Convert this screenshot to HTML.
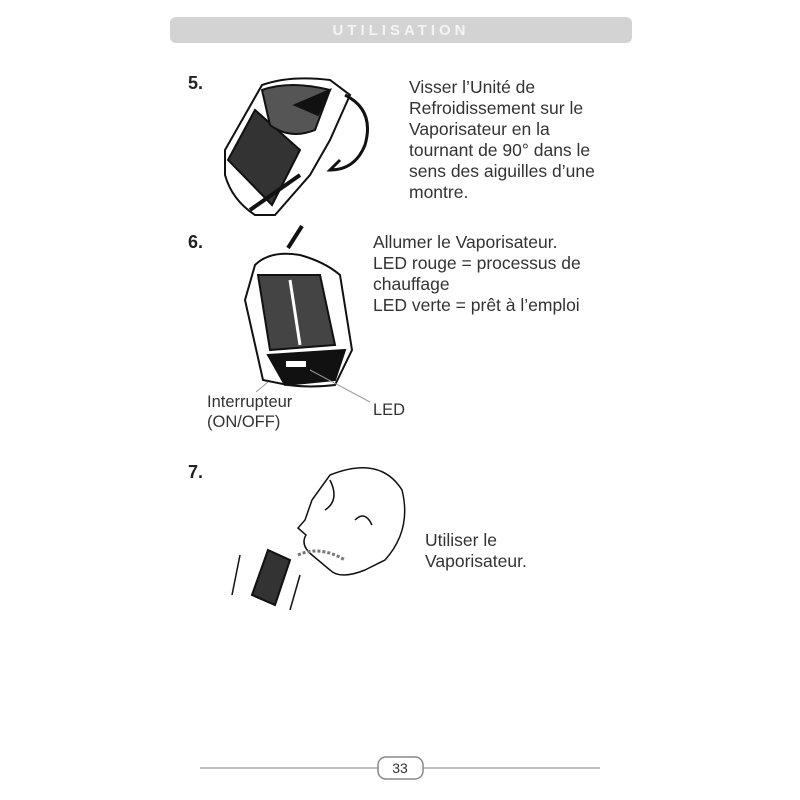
<!DOCTYPE html>
<html><head><meta charset="utf-8"><style>
body{margin:0;width:800px;height:800px;background:#fff;position:relative;font-family:"Liberation Sans",sans-serif;color:#333;overflow:hidden}
.t{position:absolute;font-size:17.5px;line-height:21px;white-space:nowrap}
.n{position:absolute;font-size:18px;font-weight:bold;color:#222}
</style></head><body>
<div style="position:absolute;left:170px;top:17px;width:462px;height:26px;background:#d3d3d3;border-radius:6px"></div>
<div class="t" style="left:170px;top:20px;width:462px;text-align:center;color:#f4f4f4;font-weight:bold;font-size:15px;letter-spacing:4px">UTILISATION</div>
<div class="n" style="left:188px;top:73px">5.</div>
<div class="t" style="left:409px;top:77px">Visser l’Unité de<br>Refroidissement sur le<br>Vaporisateur en la<br>tournant de 90° dans le<br>sens des aiguilles d’une<br>montre.</div>
<div class="n" style="left:188px;top:232px">6.</div>
<div class="t" style="left:373px;top:232px">Allumer le Vaporisateur.<br>LED rouge = processus de<br>chauffage<br>LED verte = prêt à l’emploi</div>
<div class="t" style="left:207px;top:392px;font-size:16.5px;line-height:20px">Interrupteur<br>(ON/OFF)</div>
<div class="t" style="left:373px;top:400px;font-size:16.5px">LED</div>
<div class="n" style="left:188px;top:462px">7.</div>
<div class="t" style="left:425px;top:530px">Utiliser le<br>Vaporisateur.</div>
<svg width="800" height="800" style="position:absolute;left:0;top:0">
<g stroke="#111" fill="none" stroke-width="2">
<!-- device 5 -->
<path d="M225 150 L262 85 Q290 75 330 80 L350 95 L330 140 L310 175 L275 215 L255 215 Q232 200 225 175 Z" fill="#fff"/>
<path d="M228 160 L255 110 L300 150 L272 205 Z" fill="#333"/>
<path d="M262 90 Q290 80 330 90 L315 130 Q290 140 270 125 Z" fill="#555"/>
<path d="M295 105 L330 90 L318 115 Z" fill="#111"/>
<path d="M345 95 Q375 110 365 145 Q355 170 330 170 L340 160" stroke-width="3"/>
<path d="M250 210 L300 175" stroke-width="4"/>
<!-- device 6 -->
<path d="M288 248 L302 226" stroke-width="4"/>
<path d="M255 265 Q270 250 300 255 Q325 262 340 275 L352 350 L335 385 Q310 388 288 385 L263 380 L245 300 Z" fill="#fff"/>
<path d="M258 275 L320 275 L335 345 L270 350 Z" fill="#444"/>
<path d="M290 280 L300 345" stroke="#fff" stroke-width="3"/>
<path d="M268 355 L345 350 L335 380 L285 385 Z" fill="#111"/>
<rect x="285" y="360" width="22" height="8" fill="#fff"/>
<path d="M268 382 L256 392 M310 370 L370 402" stroke="#999" stroke-width="1"/>
<!-- person 7 -->
<path d="M330 475 Q380 455 402 490 Q412 530 385 560 L365 570 Q340 580 330 570 L312 555 Q300 545 306 535 L298 528 L305 520 L312 500 Z" fill="#fff" stroke-width="1.5"/>
<path d="M355 520 Q365 510 372 525 M330 480 Q340 500 325 510" stroke-width="1.5"/>
<path d="M298 555 Q320 545 345 560" stroke="#777" stroke-width="3" stroke-dasharray="3 2"/>
<path d="M268 550 L290 560 L275 605 L252 595 Z" fill="#333"/>
<path d="M240 555 Q235 580 232 595 M300 575 L290 610" stroke-width="1.5"/>
</g>
<line x1="200" y1="768" x2="378" y2="768" stroke="#aaa" stroke-width="1.5"/>
<line x1="423" y1="768" x2="600" y2="768" stroke="#aaa" stroke-width="1.5"/>
<rect x="378" y="757" width="45" height="22" rx="8" fill="#fff" stroke="#888" stroke-width="1.5"/>
<text x="400" y="773" text-anchor="middle" font-family="Liberation Sans" font-size="14" fill="#333">33</text>
</svg>
</body></html>
